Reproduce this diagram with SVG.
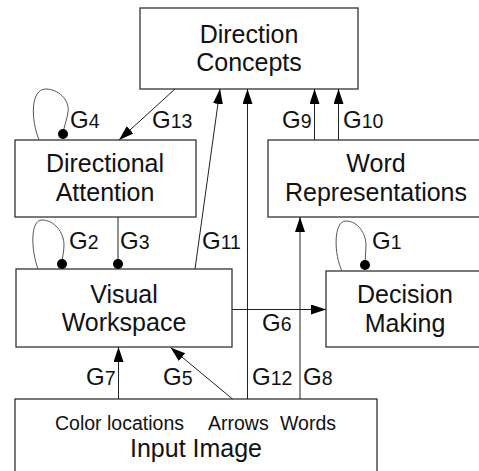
<svg xmlns="http://www.w3.org/2000/svg" width="479" height="471" viewBox="0 0 479 471">
<style>
.box{fill:#fff;stroke:#333;stroke-width:1.3}
.t{font-family:"Liberation Sans",Arial,sans-serif;font-size:25px;fill:#111;text-anchor:middle}
.s{font-family:"Liberation Sans",Arial,sans-serif;font-size:19.5px;fill:#111}
.g{font-family:"Liberation Sans",Arial,sans-serif;font-size:24px;fill:#111}
.g tspan{font-size:19.5px}
.c{fill:none;stroke:#222;stroke-width:1}
.loop{fill:none;stroke:#555;stroke-width:1}
.dot{fill:#000}
</style>
<defs>
<marker id="ah" markerUnits="userSpaceOnUse" markerWidth="16" markerHeight="11" refX="15" refY="5" orient="auto">
<path d="M0,0 L15,5 L0,10 z" fill="#000"/>
</marker>
</defs>
<g id="direction-concepts">
<rect class="box" x="140" y="8" width="218" height="81"/>
<text class="t" x="249" y="43">Direction</text>
<text class="t" x="249" y="71">Concepts</text>
</g>
<g id="directional-attention">
<rect class="box" x="15" y="140" width="181" height="77"/>
<text class="t" x="105" y="172">Directional</text>
<text class="t" x="105" y="201">Attention</text>
</g>
<g id="word-representations">
<rect class="box" x="268" y="140" width="216" height="77"/>
<text class="t" x="376" y="172">Word</text>
<text class="t" x="376" y="201">Representations</text>
</g>
<g id="visual-workspace">
<rect class="box" x="16" y="269" width="216" height="78"/>
<text class="t" x="124" y="303">Visual</text>
<text class="t" x="124" y="331">Workspace</text>
</g>
<g id="decision-making">
<rect class="box" x="326" y="271" width="160" height="76"/>
<text class="t" x="405" y="303">Decision</text>
<text class="t" x="405" y="332">Making</text>
</g>
<g id="input-image">
<rect class="box" x="15" y="399" width="362" height="80"/>
<text class="s" x="55" y="430">Color locations</text>
<text class="s" x="208" y="430">Arrows</text>
<text class="s" x="280" y="430">Words</text>
<text class="t" x="196" y="457">Input Image</text>
</g>
<g id="connectors">
<line class="c" x1="175" y1="89" x2="119" y2="140" marker-end="url(#ah)"/>
<line class="c" x1="195" y1="269" x2="220" y2="89" marker-end="url(#ah)"/>
<line class="c" x1="247.5" y1="399" x2="247.5" y2="89" marker-end="url(#ah)"/>
<line class="c" x1="314.5" y1="140" x2="314.5" y2="89" marker-end="url(#ah)"/>
<line class="c" x1="338.5" y1="140" x2="338.5" y2="89" marker-end="url(#ah)"/>
<line class="c" x1="300" y1="399" x2="300" y2="217" marker-end="url(#ah)"/>
<line class="c" x1="232" y1="309.5" x2="326" y2="309.5" marker-end="url(#ah)"/>
<line class="c" x1="118.5" y1="399" x2="118.5" y2="347" marker-end="url(#ah)"/>
<line class="c" x1="232.5" y1="399" x2="170.5" y2="347.5" marker-end="url(#ah)"/>
<line class="c" x1="118" y1="217" x2="118" y2="264"/>
<circle class="dot" cx="118" cy="264" r="5"/>
<path class="loop" d="M39,140 C31,120 30,89 46,89 C58,89 70,100 68,112 C67,120 64,126 63,134"/>
<circle class="dot" cx="63" cy="134" r="5"/>
<path class="loop" d="M38,269 C31,250 30,220 42,220 C54,220 64,232 64,245 C64,252 62,258 62,264"/>
<circle class="dot" cx="62" cy="264" r="5"/>
<path class="loop" d="M342,271 C334,255 333,221 346,221 C358,221 366,234 366,245 C366,252 365,258 365,265"/>
<circle class="dot" cx="365" cy="265" r="5"/>
<text class="g" x="70" y="128">G<tspan>4</tspan></text>
<text class="g" x="152" y="128">G<tspan>13</tspan></text>
<text class="g" x="282" y="128">G<tspan>9</tspan></text>
<text class="g" x="343" y="128">G<tspan>10</tspan></text>
<text class="g" x="69" y="249">G<tspan>2</tspan></text>
<text class="g" x="120" y="249">G<tspan>3</tspan></text>
<text class="g" x="202" y="249">G<tspan>11</tspan></text>
<text class="g" x="372" y="249">G<tspan>1</tspan></text>
<text class="g" x="262" y="331">G<tspan>6</tspan></text>
<text class="g" x="86" y="385">G<tspan>7</tspan></text>
<text class="g" x="163" y="385">G<tspan>5</tspan></text>
<text class="g" x="252" y="385">G<tspan>12</tspan></text>
<text class="g" x="303" y="385">G<tspan>8</tspan></text>
</g>
</svg>
